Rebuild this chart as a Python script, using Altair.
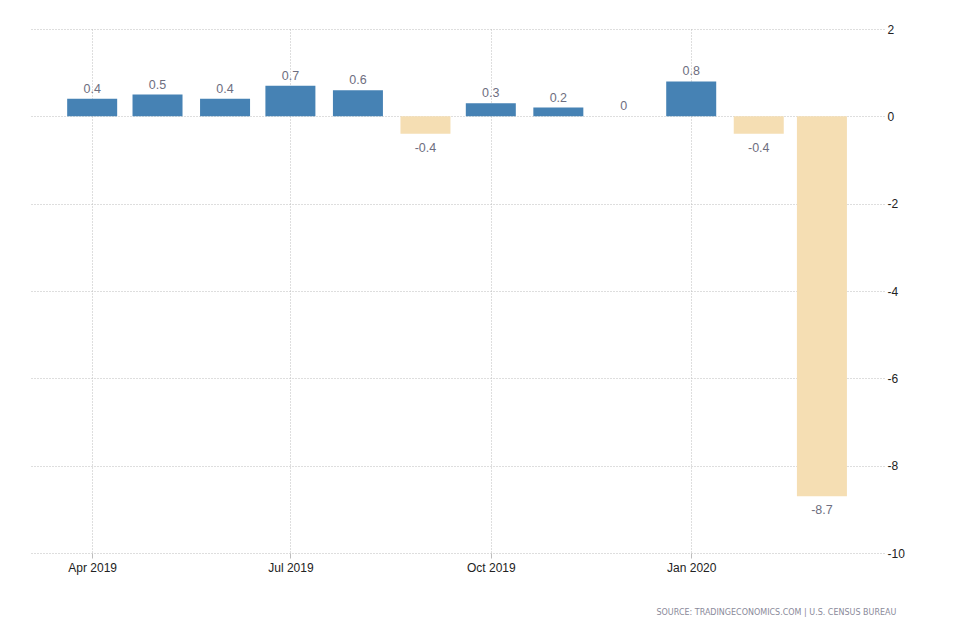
import altair as alt
import pandas as pd

months = ["2019-04-01", "2019-05-01", "2019-06-01", "2019-07-01", "2019-08-01", "2019-09-01",
          "2019-10-01", "2019-11-01", "2019-12-01", "2020-01-01", "2020-02-01", "2020-03-01"]
values = [0.4, 0.5, 0.4, 0.7, 0.6, -0.4, 0.3, 0.2, 0, 0.8, -0.4, -8.7]
y_ticks = [-10, -8, -6, -4, -2, 0, 2]
source_text = "SOURCE: TRADINGECONOMICS.COM | U.S. CENSUS BUREAU"

df = pd.DataFrame({"date": months, "value": values})

def dt(y, m, d, h=0):
    return alt.DateTime(year=y, month=m, date=d, hours=h, utc=True)

x_enc = alt.X(
    "date:T",
    scale=alt.Scale(type="utc", domain=[dt(2019, 3, 3), dt(2020, 3, 29, 12)], padding=0, nice=False),
    axis=alt.Axis(
        values=[dt(2019, 4, 1), dt(2019, 7, 1), dt(2019, 10, 1), dt(2020, 1, 1)],
        format="%b %Y", title=None, domain=False,
        grid=True, gridColor="#bdbdbd", gridDash=[1, 2],
        ticks=True, tickColor="#bdbdbd", tickSize=5,
        labelPadding=4, labelFont="Liberation Sans", labelFontSize=12,
        labelColor="#222222",
    ),
)
y_enc = alt.Y(
    "value:Q",
    scale=alt.Scale(domain=[-10, 2], nice=False),
    axis=alt.Axis(
        orient="right", values=y_ticks, title=None, domain=False, ticks=False,
        grid=True, gridColor="#bdbdbd", gridDash=[1, 2],
        labelAlign="left", labelPadding=3, labelExpr="'' + datum.value",
        labelFont="Liberation Sans", labelFontSize=12, labelColor="#222222",
    ),
)

base = alt.Chart(df)

bars = base.mark_bar(size=50).encode(
    x=x_enc,
    y=y_enc,
    color=alt.condition(alt.datum.value < 0, alt.value("#F5DEB3"), alt.value("#4682B4")),
)

pos_text = base.transform_filter(alt.datum.value >= 0).transform_calculate(
    label="'' + datum.value"
).mark_text(
    baseline="alphabetic", dy=-6, font="Liberation Sans", fontSize=12.5, color="#6e6e80"
).encode(x="date:T", y="value:Q", text="label:N")

neg_text = base.transform_filter(alt.datum.value < 0).transform_calculate(
    label="'' + datum.value"
).mark_text(
    baseline="top", dy=8, font="Liberation Sans", fontSize=12.5, color="#6e6e80"
).encode(x="date:T", y="value:Q", text="label:N")

chart = alt.layer(bars, pos_text, neg_text).properties(
    width=855,
    height=524,
    autosize=alt.AutoSizeParams(type="none"),
    padding={"left": 21, "top": 21, "right": 50, "bottom": 80},
    title=alt.TitleParams(
        source_text, orient="bottom", anchor="end", fontSize=8, font="DejaVu Sans",
        fontWeight="normal", color="#8a8a9a", dx=-8, offset=36,
    ),
).configure_view(stroke=None)

chart.save("out.html", embed_options={"renderer": "svg", "actions": False})
